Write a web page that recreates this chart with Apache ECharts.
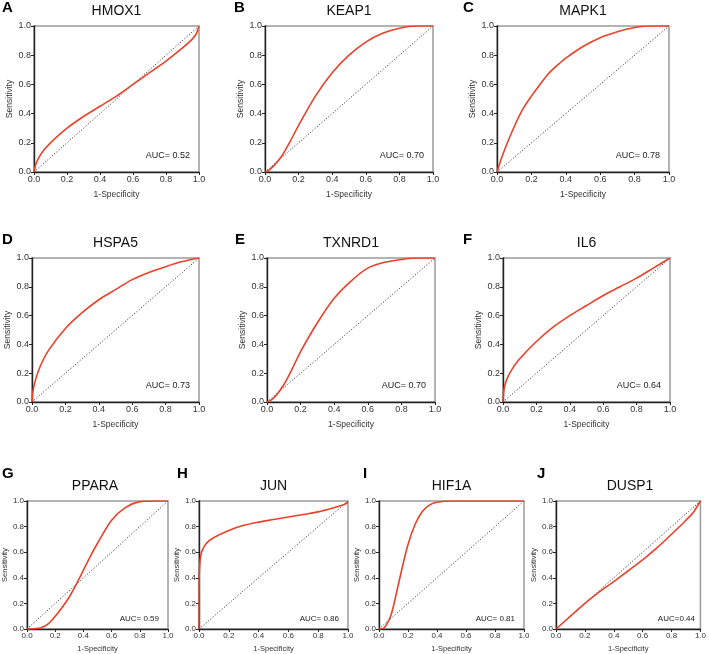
<!DOCTYPE html>
<html>
<head>
<meta charset="utf-8">
<title>ROC curves</title>
<script src="https://cdn.jsdelivr.net/npm/echarts@6/dist/echarts.min.js"></script>
<style>
  html, body { margin: 0; padding: 0; background: #fff; }
  #main { width: 709px; height: 654px; }
</style>
</head>
<body>
<div id="main"></div>
<script>
// 基因名称与AUC
var genes = ['HMOX1', 'KEAP1', 'MAPK1', 'HSPA5', 'TXNRD1', 'IL6', 'PPARA', 'JUN', 'HIF1A', 'DUSP1'];
var letters = ['A', 'B', 'C', 'D', 'E', 'F', 'G', 'H', 'I', 'J'];
var aucText = ['AUC= 0.52', 'AUC= 0.70', 'AUC= 0.78', 'AUC= 0.73', 'AUC= 0.70',
               'AUC= 0.64', 'AUC= 0.59', 'AUC= 0.86', 'AUC= 0.81', 'AUC=0.44'];

// 坐标刻度
var ticks = [0, 0.2, 0.4, 0.6, 0.8, 1.0];

// ROC曲线 (1-Specificity, Sensitivity)
var hmox1X = [0, 0.01, 0.03, 0.06, 0.1, 0.2, 0.3, 0.4, 0.5, 0.6, 0.7, 0.8, 0.9, 0.95, 0.98, 1];
var hmox1Y = [0, 0.05, 0.1, 0.15, 0.2, 0.3, 0.38, 0.45, 0.52, 0.6, 0.68, 0.76, 0.85, 0.9, 0.94, 1];

var keap1X = [0, 0.02, 0.05, 0.1, 0.15, 0.2, 0.3, 0.4, 0.5, 0.6, 0.7, 0.8, 0.9, 1];
var keap1Y = [0, 0.01, 0.04, 0.11, 0.21, 0.32, 0.52, 0.68, 0.8, 0.89, 0.95, 0.985, 1, 1];

var mapk1X = [0, 0.025, 0.05, 0.1, 0.15, 0.2, 0.25, 0.3, 0.35, 0.4, 0.5, 0.6, 0.7, 0.8, 0.9, 1];
var mapk1Y = [0, 0.09, 0.17, 0.31, 0.43, 0.52, 0.6, 0.675, 0.73, 0.78, 0.86, 0.92, 0.96, 0.99, 1, 1];

var hspa5X = [0, 0.005, 0.02, 0.05, 0.1, 0.2, 0.3, 0.4, 0.5, 0.6, 0.7, 0.8, 0.9, 1];
var hspa5Y = [0, 0.07, 0.15, 0.25, 0.36, 0.51, 0.62, 0.71, 0.78, 0.85, 0.9, 0.94, 0.975, 1];

var txnrd1X = [0, 0.02, 0.05, 0.1, 0.15, 0.2, 0.3, 0.4, 0.5, 0.6, 0.7, 0.8, 0.9, 1];
var txnrd1Y = [0, 0.01, 0.04, 0.12, 0.23, 0.35, 0.55, 0.72, 0.84, 0.93, 0.97, 0.99, 1, 1];

var il6X = [0, 0.005, 0.02, 0.05, 0.1, 0.2, 0.3, 0.4, 0.5, 0.6, 0.7, 0.8, 0.9, 1];
var il6Y = [0, 0.08, 0.15, 0.22, 0.3, 0.42, 0.52, 0.6, 0.67, 0.74, 0.8, 0.86, 0.93, 1];

var pparaX = [0, 0.05, 0.1, 0.15, 0.2, 0.25, 0.3, 0.35, 0.4, 0.45, 0.5, 0.6, 0.7, 0.8, 0.9, 1];
var pparaY = [0, 0.002, 0.01, 0.04, 0.1, 0.17, 0.25, 0.35, 0.46, 0.57, 0.67, 0.85, 0.95, 0.995, 1, 1];

var junX = [0, 0.001, 0.005, 0.01, 0.02, 0.05, 0.1, 0.2, 0.3, 0.4, 0.5, 0.6, 0.7, 0.8, 0.9, 0.97, 1];
var junY = [0, 0.4, 0.5, 0.56, 0.61, 0.67, 0.715, 0.77, 0.81, 0.835, 0.855, 0.875, 0.895, 0.915, 0.945, 0.97, 0.99];

var hif1aX = [0, 0.03, 0.05, 0.08, 0.1, 0.13, 0.15, 0.2, 0.25, 0.3, 0.35, 0.4, 0.5, 0.6, 1];
var hif1aY = [0, 0.005, 0.03, 0.1, 0.18, 0.33, 0.43, 0.66, 0.82, 0.92, 0.97, 0.99, 1, 1, 1];

var dusp1X = [0, 0.1, 0.2, 0.3, 0.4, 0.5, 0.6, 0.7, 0.8, 0.9, 0.95, 1];
var dusp1Y = [0, 0.1, 0.2, 0.29, 0.37, 0.455, 0.54, 0.635, 0.74, 0.85, 0.91, 1];

var curvesX = [hmox1X, keap1X, mapk1X, hspa5X, txnrd1X, il6X, pparaX, junX, hif1aX, dusp1X];
var curvesY = [hmox1Y, keap1Y, mapk1Y, hspa5Y, txnrd1Y, il6Y, pparaY, junY, hif1aY, dusp1Y];

// 每个小图的位置 [left, top, width, height]
var boxes = [
    [34, 26, 165, 146], [265, 26, 168, 146], [497, 26, 172, 146],
    [32, 258, 167, 144], [267, 258, 168, 144], [503, 258, 167, 144],
    [22, 501, 146, 132], [199, 501, 149, 132], [379, 501, 145, 132], [556, 501, 148, 132]
];
var letterX = [2, 234, 463, 2, 235, 463, 2, 177, 363, 537];

var FONT = '"Liberation Sans", Arial, Helvetica, sans-serif';
var RED = '#e9422b';

var myChart = echarts.init(document.getElementById('main'), null, { renderer: 'canvas' });

var grid = [], xAxis = [], yAxis = [], series = [], graphic = [];

for (var i = 0; i < genes.length; i++) {
    var b = boxes[i];
    var small = i >= 6;           // 第三行字体稍小
    var tickSize = small ? 8 : 9;
    var nameSize = small ? 7.5 : 8.5;

    grid.push({
        left: b[0], top: b[1], width: b[2], height: b[3],
        show: true, borderColor: '#9a9a9a', borderWidth: 1.5,
        backgroundColor: 'transparent'
    });

    var axisCommon = {
        gridIndex: i,
        type: 'value',
        min: 0, max: 1, interval: 0.2,
        splitLine: { show: false },
        axisLine: { show: true, onZero: false, lineStyle: { color: '#222', width: 1.4 } },
        axisTick: { show: true, length: 3, lineStyle: { color: '#222', width: 1 } },
        axisLabel: {
            fontSize: tickSize, color: '#333', fontFamily: FONT, margin: 3,
            formatter: function (v) { return v.toFixed(1); }
        },
        nameLocation: 'middle',
        nameTextStyle: { fontSize: nameSize, color: '#333', fontFamily: FONT }
    };

    xAxis.push(Object.assign({}, axisCommon, {
        name: '1-Specificity', nameGap: small ? 16 : 18
    }));
    yAxis.push(Object.assign({}, axisCommon, {
        name: 'Sensitivity', nameGap: small ? 17 : 20
    }));

    // 对角参考线
    series.push({
        type: 'line', xAxisIndex: i, yAxisIndex: i,
        data: [[ticks[0], ticks[0]], [ticks[5], ticks[5]]],
        showSymbol: false, silent: true,
        lineStyle: { color: '#222', width: 1, type: [1, 2] }
    });

    // ROC曲线
    var pts = [];
    for (var k = 0; k < curvesX[i].length; k++) {
        pts.push([curvesX[i][k], curvesY[i][k]]);
    }
    series.push({
        type: 'line', xAxisIndex: i, yAxisIndex: i,
        data: pts,
        smooth: 0.3,
        showSymbol: false, silent: true,
        lineStyle: { color: RED, width: 1.6 }
    });

    // 基因名
    graphic.push({
        type: 'text', x: b[0] + b[2] / 2, y: b[1] - 15,
        style: { text: genes[i], fill: '#111', font: '14px ' + FONT,
                 align: 'center', verticalAlign: 'middle' }
    });
    // 字母
    graphic.push({
        type: 'text', x: letterX[i], y: b[1] - (small ? 27 : 18),
        style: { text: letters[i], fill: '#000', font: 'bold 15px ' + FONT,
                 align: 'left', verticalAlign: 'middle' }
    });
    // AUC
    graphic.push({
        type: 'text', x: b[0] + b[2] - 9, y: b[1] + b[3] - (small ? 14 : 16),
        style: { text: aucText[i], fill: '#222', font: (small ? 8 : 9) + 'px ' + FONT,
                 align: 'right', verticalAlign: 'middle' }
    });
}

var option = {
    animation: false,
    backgroundColor: '#fff',
    grid: grid,
    xAxis: xAxis,
    yAxis: yAxis,
    series: series,
    graphic: graphic
};

myChart.setOption(option);
</script>
</body>
</html>
